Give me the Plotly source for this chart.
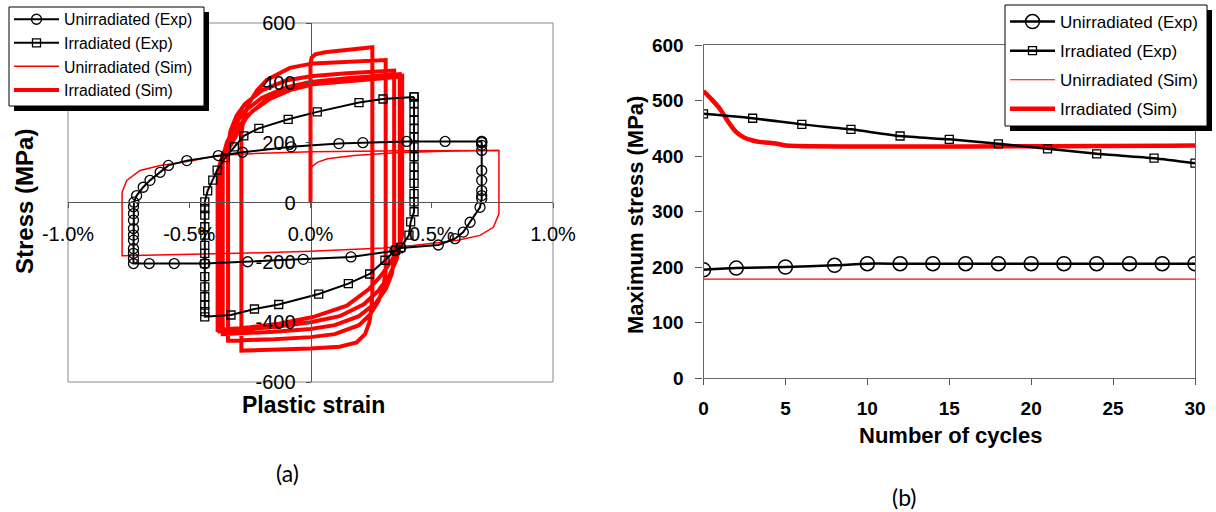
import plotly.graph_objects as go

# ---------------- (a) hysteresis loops: plastic strain (%) vs stress (MPa) ----------------
# Unirradiated (Exp) - circles
unirr_exp_strain = [0.706, 0.706, 0.706, 0.706, 0.706, 0.706, 0.706, 0.706, 0.706, 0.699,
                    0.658, 0.630, 0.596, 0.527, 0.372, 0.348, 0.167, -0.030, -0.259, -0.436,
                    -0.562, -0.665, -0.730, -0.730, -0.730, -0.730, -0.730, -0.730, -0.730,
                    -0.730, -0.730, -0.730, -0.728, -0.717, -0.690, -0.662, -0.620, -0.586,
                    -0.510, -0.380, -0.280, -0.080, 0.117, 0.216, 0.397, 0.555, 0.706]
unirr_exp_stress = [204, 200, 191, 174, 107, 74, 40, 23, 13, -16,
                    -66, -99, -121, -142, -152, -161, -182, -190, -198, -204,
                    -204, -204, -204, -187, -170, -154, -126, -109, -87, -59, -37, -14,
                    1, 23, 51, 74, 101, 124, 140, 157, 168, 186, 197, 200, 204, 204, 204]

# Irradiated (Exp) - squares
irr_exp_strain = [0.427, 0.427, 0.427, 0.427, 0.427, 0.427, 0.427, 0.427, 0.427, 0.427,
                  0.427, 0.427, 0.427, 0.427, 0.413, 0.406, 0.372, 0.351, 0.307, 0.244,
                  0.156, 0.034, -0.131, -0.231, -0.328, -0.436, -0.436, -0.436, -0.436,
                  -0.436, -0.436, -0.436, -0.436, -0.436, -0.436, -0.436, -0.436, -0.436,
                  -0.436, -0.424, -0.403, -0.385, -0.351, -0.314, -0.275, -0.213, -0.092,
                  0.028, 0.200, 0.299, 0.427]
irr_exp_stress = [353, 331, 303, 275, 247, 219, 186, 153, 119, 91,
                  64, 30, 2, -31, -65, -109, -150, -159, -193, -239,
                  -271, -306, -341, -356, -376, -382, -365, -343, -315, -282,
                  -248, -204, -170, -143, -109, -81, -42, -20, 2, 39,
                  75, 108, 150, 186, 223, 248, 278, 303, 334, 346, 353]

# Unirradiated (Sim) - thin red
unirr_sim_strain = [0.0, 0.0, 0.005, 0.03, 0.07, 0.18, 0.35, 0.55, 0.777,
                    0.777, 0.754, 0.699, 0.603, 0.423, 0.3, 0.0, -0.3, -0.6, -0.777,
                    -0.777, -0.758, -0.703, -0.62, -0.483, -0.387, -0.2, 0.0, 0.4, 0.777]
unirr_sim_stress = [0, 100, 120, 135, 146, 157, 166, 171, 174,
                    -38, -83, -110, -127, -144, -152, -163, -170, -176, -178,
                    34, 74, 107, 124, 140, 157, 165, 170, 173, 174]

# Irradiated (Sim) - thick red (initial loading, then successive half-cycles)
irr_sim_strain = [0.0, 0.0, 0.0, 0.005, 0.02, 0.06, 0.12, 0.2, 0.255,
                  0.255, 0.252, 0.243, 0.225, 0.19, 0.12, 0.0, -0.15, -0.285,
                  -0.285, -0.275, -0.255, -0.22, -0.18, -0.085, 0.01, 0.15, 0.31,
                  0.31, 0.3, 0.28, 0.245, 0.2, 0.1, 0.0, -0.15, -0.34,
                  -0.34, -0.33, -0.305, -0.27, -0.2, -0.1, 0.0, 0.15, 0.345,
                  0.345, 0.335, 0.31, 0.27, 0.2, 0.1, 0.0, -0.15, -0.362,
                  -0.362, -0.345, -0.315, -0.28, -0.2, -0.1, 0.0, 0.15, 0.368,
                  0.368, 0.355, 0.325, 0.28, 0.22, 0.12, 0.0, -0.15, -0.375,
                  -0.375, -0.36, -0.33, -0.29, -0.24, -0.17, -0.08, 0.01, 0.15, 0.378,
                  0.378, 0.365, 0.33, 0.29, 0.24, 0.15, 0.01, -0.13, -0.25, -0.383,
                  -0.383, -0.37, -0.33, -0.29, -0.26, -0.18, -0.085, 0.01, 0.15, 0.28, 0.383]
irr_sim_stress = [0, 300, 465, 485, 495, 502, 508, 514, 519,
                  -300, -350, -400, -440, -468, -482, -488, -492, -495,
                  230, 285, 330, 375, 410, 450, 465, 471, 476,
                  -230, -285, -330, -375, -410, -440, -450, -457, -462,
                  190, 240, 290, 330, 375, 408, 422, 432, 441,
                  -190, -240, -290, -335, -380, -410, -423, -432, -440,
                  150, 200, 250, 300, 350, 385, 403, 415, 429,
                  -140, -190, -245, -295, -340, -380, -400, -416, -431,
                  120, 165, 210, 260, 305, 345, 377, 395, 407, 424,
                  -110, -150, -200, -245, -290, -345, -383, -405, -417, -426,
                  100, 140, 190, 245, 290, 345, 380, 395, 406, 414, 421]

strain_ticks = [-1.0, -0.5, 0.0, 0.5, 1.0]
strain_ticktext = ["-1.0%", "-0.5%", "0.0%", "0.5%", "1.0%"]
stress_ticks_a = [-600, -400, -200, 0, 200, 400, 600]
stress_ticktext_a = ["-600", "-400", "-200", "0", "200", "400", "600"]

# ---------------- (b) maximum stress vs number of cycles ----------------
cycles_unirr_exp = [0, 2, 5, 8, 10, 12, 14, 16, 18, 20, 22, 24, 26, 28, 30]
maxstress_unirr_exp = [195, 198, 200, 203, 206, 206, 206, 206, 206, 206, 206, 206, 206, 206, 206]
cycles_irr_exp = [0, 3, 6, 9, 12, 15, 18, 21, 24, 27.5, 30]
maxstress_irr_exp = [476, 468, 457, 448, 436, 430, 422, 413, 404, 396, 387]
cycles_unirr_sim = [0, 30]
maxstress_unirr_sim = [178, 178]
cycles_irr_sim = [0, 0.5, 1, 1.5, 2, 2.5, 3, 3.5, 4, 4.5, 5, 30]
maxstress_irr_sim = [517, 502, 485, 462, 443, 433, 428, 425, 424, 422, 419, 419]

cycle_ticks = [0, 5, 10, 15, 20, 25, 30]
stress_ticks_b = [0, 100, 200, 300, 400, 500, 600]

names = ["Unirradiated (Exp)", "Irradiated (Exp)", "Unirradiated (Sim)", "Irradiated (Sim)"]

FONT = "Liberation Sans, Arial, sans-serif"
RED = "#ff0000"

fig = go.Figure()

# panel (a): sim first, exp on top
fig.add_trace(go.Scatter(x=unirr_sim_strain, y=unirr_sim_stress, mode="lines",
                         line=dict(color=RED, width=1.5), name=names[2],
                         legend="legend", legendgroup="a3", legendrank=3, xaxis="x", yaxis="y"))
fig.add_trace(go.Scatter(x=irr_sim_strain, y=irr_sim_stress, mode="lines",
                         line=dict(color=RED, width=4), name=names[3],
                         legend="legend", legendgroup="a4", legendrank=4, xaxis="x", yaxis="y"))
fig.add_trace(go.Scatter(x=unirr_exp_strain, y=unirr_exp_stress, mode="lines+markers",
                         line=dict(color="black", width=2),
                         marker=dict(symbol="circle-open", size=10, color="black", line=dict(width=1.3)),
                         name=names[0], legend="legend", legendgroup="a1", legendrank=1,
                         xaxis="x", yaxis="y"))
fig.add_trace(go.Scatter(x=irr_exp_strain, y=irr_exp_stress, mode="lines+markers",
                         line=dict(color="black", width=2),
                         marker=dict(symbol="square-open", size=8, color="black", line=dict(width=1.3)),
                         name=names[1], legend="legend", legendgroup="a2", legendrank=2,
                         xaxis="x", yaxis="y"))

# panel (b)
fig.add_trace(go.Scatter(x=cycles_unirr_sim, y=maxstress_unirr_sim, mode="lines",
                         line=dict(color=RED, width=1.2), name=names[2],
                         legend="legend2", legendgroup="b3", legendrank=3, xaxis="x2", yaxis="y2"))
fig.add_trace(go.Scatter(x=cycles_irr_sim, y=maxstress_irr_sim, mode="lines",
                         line=dict(color=RED, width=4.5, shape="spline", smoothing=0.6), name=names[3],
                         legend="legend2", legendgroup="b4", legendrank=4, xaxis="x2", yaxis="y2"))
fig.add_trace(go.Scatter(x=cycles_unirr_exp, y=maxstress_unirr_exp, mode="lines+markers",
                         line=dict(color="black", width=2.5, shape="spline", smoothing=0.6),
                         marker=dict(symbol="circle-open", size=14, color="black", line=dict(width=1.5)),
                         name=names[0], legend="legend2", legendgroup="b1", legendrank=1,
                         xaxis="x2", yaxis="y2"))
fig.add_trace(go.Scatter(x=cycles_irr_exp, y=maxstress_irr_exp, mode="lines+markers",
                         line=dict(color="black", width=2.5, shape="spline", smoothing=0.6),
                         marker=dict(symbol="square-open", size=8, color="black", line=dict(width=1.3)),
                         name=names[1], legend="legend2", legendgroup="b2", legendrank=2,
                         xaxis="x2", yaxis="y2"))

W, H = 1216, 512
def px(x):
    return x / W
def py(y):
    return 1 - y / H

tick_font_a = dict(family=FONT, size=20, color="black")
tick_font_b = dict(family=FONT, size=19, color="black", weight="bold")

def label(text, x, y, size, family=FONT, angle=0):
    return dict(text=text, x=px(x), y=py(y), xref="paper", yref="paper", xanchor="center",
                yanchor="middle", textangle=angle, showarrow=False,
                font=dict(family=family, size=size, color="black"))

def box(x0, y0, x1, y1, fill, border):
    return dict(type="rect", xref="paper", yref="paper", x0=px(x0), x1=px(x1), y0=py(y1), y1=py(y0),
                fillcolor=fill, line=dict(color=border, width=1 if border else 0), layer="above")

fig.update_layout(
    width=W, height=H,
    margin=dict(l=0, r=0, t=0, b=0, autoexpand=False),
    paper_bgcolor="white", plot_bgcolor="white",
    font=dict(family=FONT, color="black"),
    xaxis=dict(domain=[px(68), px(553)], range=[-1, 1], anchor="free", position=py(202),
               automargin=False,
               tickvals=strain_ticks, ticktext=strain_ticktext, showgrid=False, zeroline=False,
               showline=True, linecolor="#555", linewidth=1, ticks="outside", ticklen=5,
               tickcolor="#555", tickfont=tick_font_a, ticklabelstandoff=9),
    yaxis=dict(domain=[py(382), py(23)], range=[-600, 600], anchor="free", position=px(310.5),
               automargin=False,
               tickvals=stress_ticks_a, ticktext=stress_ticktext_a, showgrid=False, zeroline=False,
               showline=True, linecolor="#555", linewidth=1, ticks="outside", ticklen=5,
               tickcolor="#555", tickfont=tick_font_a, ticklabelstandoff=6),
    xaxis2=dict(domain=[px(703.5), px(1195)], range=[0, 30], anchor="y2", automargin=False,
                tickvals=cycle_ticks, showgrid=False, zeroline=False, showline=True, mirror=True,
                linecolor="#666", linewidth=1.2, ticks="outside", ticklen=6, tickcolor="#555",
                tickfont=tick_font_b, ticklabelstandoff=7),
    yaxis2=dict(domain=[py(378), py(45)], range=[0, 600], anchor="x2", automargin=False,
                tickvals=stress_ticks_b, showgrid=False, zeroline=False, showline=True, mirror=True,
                linecolor="#666", linewidth=1.2, ticks="outside", ticklen=7, tickcolor="#555",
                tickfont=tick_font_b, ticklabelstandoff=8),
    legend=dict(x=px(9), y=py(2.5), xanchor="left", yanchor="top", bgcolor="rgba(0,0,0,0)",
                borderwidth=0, font=dict(family=FONT, size=15.8),
                traceorder="grouped", tracegroupgap=0, itemwidth=45),
    legend2=dict(x=px(1005), y=py(4), xanchor="left", yanchor="top", bgcolor="rgba(0,0,0,0)",
                 borderwidth=0, font=dict(family=FONT, size=17),
                 traceorder="grouped", tracegroupgap=4, itemwidth=45),
    shapes=[
        dict(type="rect", xref="x domain", yref="y domain", x0=0, x1=1, y0=0, y1=1,
             line=dict(color="#888", width=1), layer="below"),
        box(14, 12, 209, 111, "black", None),
        box(9, 7, 204, 106, "white", "black"),
        box(1010, 10, 1212, 131, "black", None),
        box(1005, 5, 1207, 126, "white", "black"),
    ],
    annotations=[
        label("<b>Stress (MPa)</b>", 24, 202, 24, angle=-90),
        label("<b>Plastic strain</b>", 313, 405, 23),
        label("(a)", 287, 473, 23, family="Lato, sans-serif"),
        label("<b>Maximum stress (MPa)</b>", 635, 215, 22, angle=-90),
        label("<b>Number of cycles</b>", 950, 435, 22),
        label("(b)", 905, 497, 23, family="Lato, sans-serif"),
    ],
)

fig.write_html(
    "out.html",
    config={"displayModeBar": False},
    post_script="document.body.style.margin='0px';document.body.style.padding='0px';"
                "document.documentElement.style.overflow='hidden';",
)
